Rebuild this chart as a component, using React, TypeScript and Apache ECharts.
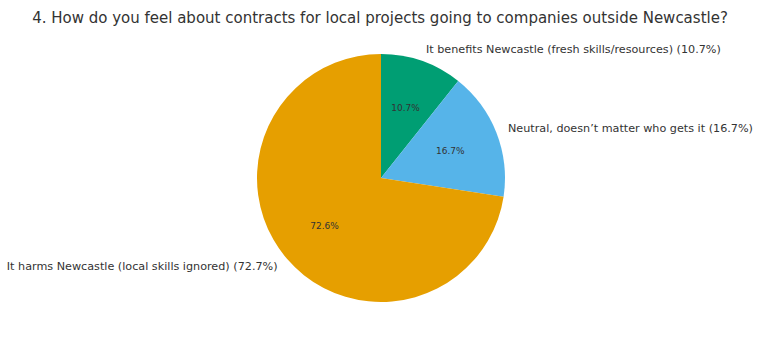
import React, { useEffect, useRef } from "react";
import * as echarts from "echarts";

const TITLE = "4. How do you feel about contracts for local projects going to companies outside Newcastle?";
const categories = [
  "It benefits Newcastle (fresh skills/resources) (10.7%)",
  "Neutral, doesn\u2019t matter who gets it (16.7%)",
  "It harms Newcastle (local skills ignored) (72.7%)",
];
const values = [10.7, 16.7, 72.6];
const colors = ["#009E73", "#56B4E9", "#E69F00"];

export default function App() {
  const ref = useRef<HTMLDivElement>(null);
  useEffect(() => {
    if (!ref.current) return;
    const chart = echarts.init(ref.current, undefined, { renderer: "svg" });
    const R = 124;
    const data = categories.map((name, i) => ({ name, value: values[i], itemStyle: { color: colors[i] } }));
    chart.setOption({
      animation: false,
      backgroundColor: "#ffffff",
      title: {
        text: TITLE,
        left: "center",
        top: 5,
        textStyle: { fontFamily: "DejaVu Sans", fontSize: 15, fontWeight: "normal", color: "#333333" },
      },
      series: [
        {
          type: "pie",
          center: [381, 178],
          radius: R,
          startAngle: 90,
          clockwise: true,
          avoidLabelOverlap: false,
          data,
          label: {
            show: true,
            position: "outside",
            formatter: "{b}",
            fontFamily: "DejaVu Sans",
            fontSize: 11.2,
            color: "#333333",
            distanceToLabelLine: 0,
          },
          labelLine: { show: false, length: R * 0.1, length2: 0 },
          emphasis: { disabled: true },
          silent: true,
        },
        {
          type: "pie",
          center: [381, 178],
          radius: [R * 0.2 - 6, R],
          startAngle: 90,
          clockwise: true,
          avoidLabelOverlap: false,
          data: categories.map((name, i) => ({ name, value: values[i] })),
          itemStyle: { color: "rgba(0,0,0,0)" },
          label: {
            show: true,
            position: "inside",
            formatter: (p: any) => p.value.toFixed(1) + "%",
            fontFamily: "DejaVu Sans",
            fontSize: 9,
            color: "#333333",
          },
          labelLine: { show: false },
          emphasis: { disabled: true },
          silent: true,
        },
      ],
    });
    return () => chart.dispose();
  }, []);
  return <div ref={ref} style={{ position: "fixed", left: 0, top: 0, width: 760, height: 340 }} />;
}
